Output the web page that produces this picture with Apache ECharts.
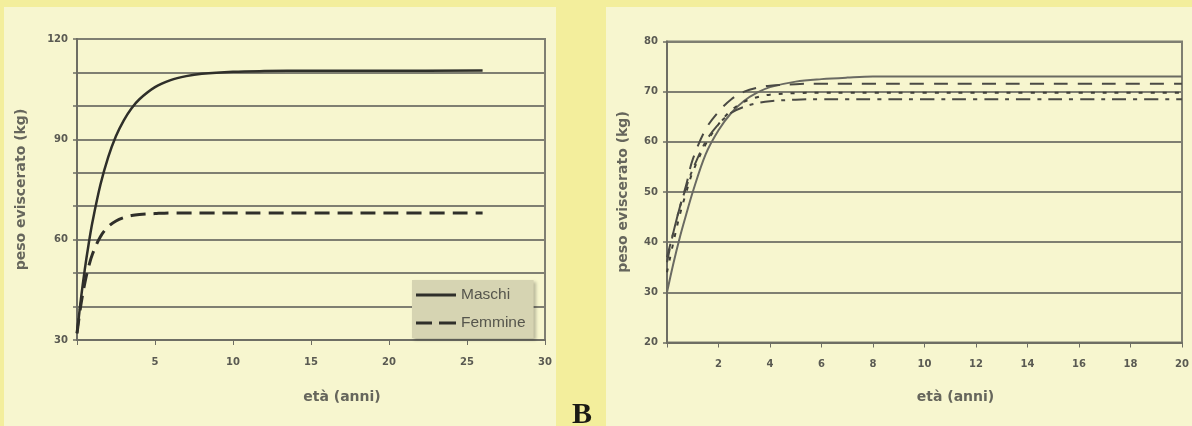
<!DOCTYPE html>
<html>
<head>
<meta charset="utf-8">
<script src="https://cdn.jsdelivr.net/npm/echarts@6/dist/echarts.min.js"></script>
<style>
  html, body { margin: 0; padding: 0; background: #f3ee9c; }
  #chart { width: 1192px; height: 426px; }
</style>
</head>
<body>
<div id="chart"></div>
<script>
// Panel A: carcass weight of males and females by age (years)
const agesA = [0, 0.25, 0.5, 0.75, 1, 1.5, 2, 2.5, 3, 3.5, 4, 5, 6, 7, 8, 10, 12, 15, 20, 26];
const maschi = [32, 42.2, 51.1, 58.8, 65.5, 76.4, 84.7, 91.0, 95.7, 99.3, 102.0, 105.6, 107.7, 108.9, 109.6, 110.2, 110.4, 110.5, 110.5, 110.6];
const femmine = [32, 40.5, 47, 52, 55.8, 60.9, 63.9, 65.6, 66.6, 67.2, 67.5, 67.8, 68, 68, 68, 68, 68, 68, 68, 68];

// Panel B: four growth curves over 0-20 years
const agesB = [0, 0.25, 0.5, 0.75, 1, 1.5, 2, 2.5, 3, 3.5, 4, 5, 6, 7, 8, 10, 12, 14, 16, 18, 20];
const curvaContinua = [30, 35.8, 41, 45.6, 50, 57.5, 62.3, 65.8, 68.2, 69.8, 70.9, 72, 72.5, 72.8, 73, 73, 73, 73, 73, 73, 73];
const curvaTratteggiata = [36, 42, 47, 51.5, 56.5, 62.5, 66, 68.5, 70, 70.8, 71.2, 71.5, 71.6, 71.6, 71.6, 71.6, 71.6, 71.6, 71.6, 71.6, 71.6];
const curvaPuntinata = [34, 40, 45.5, 50, 54, 59.5, 63.5, 66.3, 68, 68.9, 69.4, 69.7, 69.8, 69.8, 69.8, 69.8, 69.8, 69.8, 69.8, 69.8, 69.8];
const curvaTrattoPunto = [37, 42, 47, 51, 54.5, 60, 63.5, 65.8, 67, 67.7, 68.1, 68.4, 68.5, 68.5, 68.5, 68.5, 68.5, 68.5, 68.5, 68.5, 68.5];

// Axis tick settings
const yTicksA = { min: 30, max: 120, step: 10, labelEvery: 30 };
const xTicksA = { min: 0, max: 30, step: 5 };
const yTicksB = { min: 20, max: 80, step: 10 };
const xTicksB = { min: 0, max: 20, step: 2 };

const pair = (xs, ys) => xs.map((x, i) => [x, ys[i]]);

const gridColor = '#7f7f72';
const axisColor = '#6e6e64';
const labelColor = '#5a5a52';
const labelFont = { color: labelColor, fontFamily: 'DejaVu Sans', fontWeight: 'bold', fontSize: 10 };
const nameFont = { color: '#66665c', fontFamily: 'DejaVu Sans', fontWeight: 'bold', fontSize: 14 };

function xAxis(gridIndex, t, nameGap) {
  return {
    type: 'value', gridIndex, min: t.min, max: t.max, interval: t.step,
    name: 'età (anni)', nameLocation: 'middle', nameGap,
    nameTextStyle: { ...nameFont, padding: [0, 0, 0, 62] },
    axisLine: { show: true, onZero: false, lineStyle: { color: axisColor, width: 2 } },
    axisTick: { show: true, length: 5, lineStyle: { color: axisColor, width: 1 } },
    axisLabel: { ...labelFont, margin: 17, formatter: v => (v === 0 ? '' : String(v)) },
    splitLine: { show: false }
  };
}

function yAxis(gridIndex, t, nameGap, every) {
  return {
    type: 'value', gridIndex, min: t.min, max: t.max, interval: t.step,
    name: 'peso eviscerato (kg)', nameLocation: 'middle', nameGap, nameRotate: 90, nameTextStyle: nameFont,
    axisLine: { show: true, lineStyle: { color: axisColor, width: 2 } },
    axisTick: { show: true, length: 4, lineStyle: { color: axisColor, width: 1.5 } },
    axisLabel: { ...labelFont, margin: 9, formatter: v => (every && v % every !== 0 ? '' : String(v)) },
    splitLine: { show: true, lineStyle: { color: gridColor, width: 2 } }
  };
}

function curve(name, xi, xs, ys, color, width, type) {
  return {
    name, type: 'line', xAxisIndex: xi, yAxisIndex: xi,
    data: pair(xs, ys), smooth: 0.35, showSymbol: false, symbol: 'none',
    lineStyle: { color, width, type }, itemStyle: { color },
    z: 5, animation: false
  };
}

const chart = echarts.init(document.getElementById('chart'), null, { renderer: 'canvas' });

chart.setOption({
  backgroundColor: '#f3ee9c',
  animation: false,
  graphic: [
    { type: 'rect', shape: { x: 4, y: 7, width: 552, height: 430 }, style: { fill: '#f7f6cf' }, z: -10 },
    { type: 'rect', shape: { x: 606, y: 7, width: 600, height: 430 }, style: { fill: '#f7f6cf' }, z: -10 },
    { type: 'text', x: 572, y: 430, style: { text: 'B', font: 'bold 30px "Liberation Serif"', fill: '#1a1a14', verticalAlign: 'bottom' }, z: 10 }
  ],
  grid: [
    { left: 77, top: 39, width: 468, height: 301, show: true, borderColor: gridColor, borderWidth: 2, backgroundColor: 'transparent' },
    { left: 667, top: 41.5, width: 515, height: 301, show: true, borderColor: gridColor, borderWidth: 2, backgroundColor: 'transparent' }
  ],
  xAxis: [xAxis(0, xTicksA, 50), xAxis(1, xTicksB, 48)],
  yAxis: [yAxis(0, yTicksA, 49, yTicksA.labelEvery), yAxis(1, yTicksB, 37, 0)],
  legend: {
    data: [
      { name: 'Maschi', icon: 'path://M0,0H40V3H0Z' },
      { name: 'Femmine', icon: 'path://M0,0H16V3H0ZM23,0H40V3H23Z' }
    ],
    orient: 'vertical', left: 412, top: 280,
    itemWidth: 40, itemHeight: 3, itemGap: 10,
    padding: [6, 8, 6, 4],
    backgroundColor: '#d6d4b2',
    shadowColor: 'rgba(0,0,0,0.25)', shadowBlur: 3, shadowOffsetX: 2, shadowOffsetY: 2,
    textStyle: { color: '#55554c', fontFamily: 'Liberation Sans', fontSize: 15.5, lineHeight: 18 },
    selectedMode: false
  },
  series: [
    curve('Maschi', 0, agesA, maschi, '#2f2f2a', 2.5, 'solid'),
    curve('Femmine', 0, agesA, femmine, '#2f2f2a', 3, [15, 8]),
    curve('continua', 1, agesB, curvaContinua, '#6a6a62', 2, 'solid'),
    curve('tratteggiata', 1, agesB, curvaTratteggiata, '#4a4a44', 2, [14, 10]),
    curve('puntinata', 1, agesB, curvaPuntinata, '#3e3e38', 2, [4, 8]),
    curve('trattopunto', 1, agesB, curvaTrattoPunto, '#4a4a44', 2, [14, 7, 4, 7])
  ]
});
</script>
</body>
</html>
